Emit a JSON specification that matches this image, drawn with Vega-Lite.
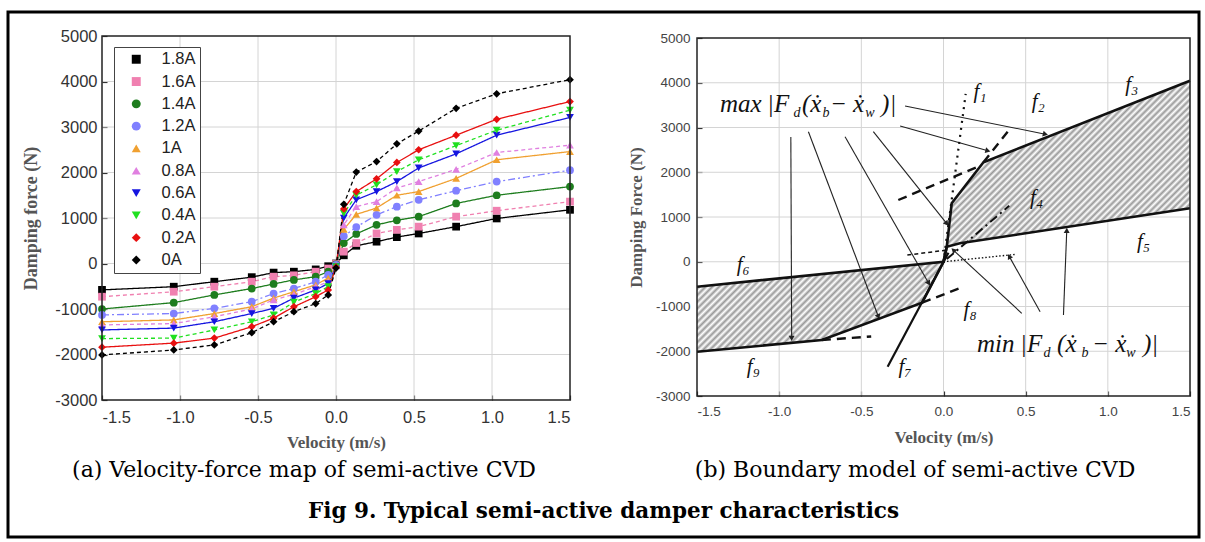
{
"$schema": "https://vega.github.io/schema/vega-lite/v6.json",
"width": 1191,
"height": 525,
"autosize": {"type": "none"},
"padding": {"left": 8, "top": 12, "right": 6, "bottom": 5},
"background": "white",
"config": {
  "view": {"stroke": "#000", "strokeWidth": 3},
  "locale": {"number": {"decimal": ".", "thousands": ",", "grouping": [3], "currency": ["$", ""], "minus": "-"}},
  "axis": {"domain": false, "grid": false, "tickColor": "#333", "tickWidth": 1.2, "tickSize": -5, "labelFont": "Liberation Sans", "titleFont": "Liberation Serif", "titleFontWeight": "bold", "titleColor": "#555"}
},
"title": {"text": "Fig 9. Typical semi-active damper characteristics", "orient": "bottom", "frame": "group", "anchor": "middle", "baseline": "middle", "offset": -25, "font": "DejaVu Serif", "fontSize": 21.5, "fontWeight": "bold", "color": "#000"},
"datasets": {
"gx": [{"g":-1},{"g":-0.5},{"g":0},{"g":0.5},{"g":1}],
"gy": [{"g":-2000},{"g":-1000},{"g":0},{"g":1000},{"g":2000},{"g":3000},{"g":4000}],
"vf": [
{"c":"1.8A","v":-1.5,"F":-580},{"c":"1.8A","v":-1.04,"F":-510},{"c":"1.8A","v":-0.78,"F":-400},{"c":"1.8A","v":-0.54,"F":-300},{"c":"1.8A","v":-0.4,"F":-200},{"c":"1.8A","v":-0.27,"F":-180},{"c":"1.8A","v":-0.13,"F":-130},{"c":"1.8A","v":-0.05,"F":-60},{"c":"1.8A","v":0,"F":0},{"c":"1.8A","v":0.05,"F":180},{"c":"1.8A","v":0.13,"F":390},{"c":"1.8A","v":0.26,"F":480},{"c":"1.8A","v":0.39,"F":580},{"c":"1.8A","v":0.53,"F":660},{"c":"1.8A","v":0.77,"F":810},{"c":"1.8A","v":1.03,"F":990},{"c":"1.8A","v":1.5,"F":1180},
{"c":"1.6A","v":-1.5,"F":-730},{"c":"1.6A","v":-1.04,"F":-620},{"c":"1.6A","v":-0.78,"F":-510},{"c":"1.6A","v":-0.54,"F":-400},{"c":"1.6A","v":-0.4,"F":-290},{"c":"1.6A","v":-0.27,"F":-260},{"c":"1.6A","v":-0.13,"F":-180},{"c":"1.6A","v":-0.05,"F":-110},{"c":"1.6A","v":0,"F":-10},{"c":"1.6A","v":0.05,"F":260},{"c":"1.6A","v":0.13,"F":450},{"c":"1.6A","v":0.26,"F":660},{"c":"1.6A","v":0.39,"F":740},{"c":"1.6A","v":0.53,"F":810},{"c":"1.6A","v":0.77,"F":1030},{"c":"1.6A","v":1.03,"F":1160},{"c":"1.6A","v":1.5,"F":1360},
{"c":"1.4A","v":-1.5,"F":-1000},{"c":"1.4A","v":-1.04,"F":-860},{"c":"1.4A","v":-0.78,"F":-690},{"c":"1.4A","v":-0.54,"F":-550},{"c":"1.4A","v":-0.4,"F":-450},{"c":"1.4A","v":-0.27,"F":-360},{"c":"1.4A","v":-0.13,"F":-290},{"c":"1.4A","v":-0.05,"F":-180},{"c":"1.4A","v":0,"F":-20},{"c":"1.4A","v":0.05,"F":450},{"c":"1.4A","v":0.13,"F":650},{"c":"1.4A","v":0.26,"F":850},{"c":"1.4A","v":0.39,"F":950},{"c":"1.4A","v":0.53,"F":1030},{"c":"1.4A","v":0.77,"F":1320},{"c":"1.4A","v":1.03,"F":1500},{"c":"1.4A","v":1.5,"F":1690},
{"c":"1.2A","v":-1.5,"F":-1130},{"c":"1.2A","v":-1.04,"F":-1100},{"c":"1.2A","v":-0.78,"F":-985},{"c":"1.2A","v":-0.54,"F":-840},{"c":"1.2A","v":-0.4,"F":-660},{"c":"1.2A","v":-0.27,"F":-550},{"c":"1.2A","v":-0.13,"F":-400},{"c":"1.2A","v":-0.05,"F":-250},{"c":"1.2A","v":0,"F":-30},{"c":"1.2A","v":0.05,"F":600},{"c":"1.2A","v":0.13,"F":800},{"c":"1.2A","v":0.26,"F":1070},{"c":"1.2A","v":0.39,"F":1250},{"c":"1.2A","v":0.53,"F":1400},{"c":"1.2A","v":0.77,"F":1600},{"c":"1.2A","v":1.03,"F":1800},{"c":"1.2A","v":1.5,"F":2050},
{"c":"1A","v":-1.5,"F":-1280},{"c":"1A","v":-1.04,"F":-1240},{"c":"1A","v":-0.78,"F":-1100},{"c":"1A","v":-0.54,"F":-950},{"c":"1A","v":-0.4,"F":-760},{"c":"1A","v":-0.27,"F":-620},{"c":"1A","v":-0.13,"F":-470},{"c":"1A","v":-0.05,"F":-320},{"c":"1A","v":0,"F":-40},{"c":"1A","v":0.05,"F":750},{"c":"1A","v":0.13,"F":1080},{"c":"1A","v":0.26,"F":1220},{"c":"1A","v":0.39,"F":1500},{"c":"1A","v":0.53,"F":1580},{"c":"1A","v":0.77,"F":1870},{"c":"1A","v":1.03,"F":2280},{"c":"1A","v":1.5,"F":2460},
{"c":"0.8A","v":-1.5,"F":-1350},{"c":"0.8A","v":-1.04,"F":-1320},{"c":"0.8A","v":-0.78,"F":-1170},{"c":"0.8A","v":-0.54,"F":-1000},{"c":"0.8A","v":-0.4,"F":-800},{"c":"0.8A","v":-0.27,"F":-680},{"c":"0.8A","v":-0.13,"F":-510},{"c":"0.8A","v":-0.05,"F":-400},{"c":"0.8A","v":0,"F":-50},{"c":"0.8A","v":0.05,"F":850},{"c":"0.8A","v":0.13,"F":1250},{"c":"0.8A","v":0.26,"F":1360},{"c":"0.8A","v":0.39,"F":1660},{"c":"0.8A","v":0.53,"F":1800},{"c":"0.8A","v":0.77,"F":2070},{"c":"0.8A","v":1.03,"F":2440},{"c":"0.8A","v":1.5,"F":2600},
{"c":"0.6A","v":-1.5,"F":-1460},{"c":"0.6A","v":-1.04,"F":-1420},{"c":"0.6A","v":-0.78,"F":-1280},{"c":"0.6A","v":-0.54,"F":-1100},{"c":"0.6A","v":-0.4,"F":-985},{"c":"0.6A","v":-0.27,"F":-760},{"c":"0.6A","v":-0.13,"F":-580},{"c":"0.6A","v":-0.05,"F":-440},{"c":"0.6A","v":0,"F":-60},{"c":"0.6A","v":0.05,"F":1000},{"c":"0.6A","v":0.13,"F":1400},{"c":"0.6A","v":0.26,"F":1580},{"c":"0.6A","v":0.39,"F":1800},{"c":"0.6A","v":0.53,"F":2100},{"c":"0.6A","v":0.77,"F":2410},{"c":"0.6A","v":1.03,"F":2820},{"c":"0.6A","v":1.5,"F":3210},
{"c":"0.4A","v":-1.5,"F":-1650},{"c":"0.4A","v":-1.04,"F":-1640},{"c":"0.4A","v":-0.78,"F":-1460},{"c":"0.4A","v":-0.54,"F":-1280},{"c":"0.4A","v":-0.4,"F":-1130},{"c":"0.4A","v":-0.27,"F":-850},{"c":"0.4A","v":-0.13,"F":-660},{"c":"0.4A","v":-0.05,"F":-510},{"c":"0.4A","v":0,"F":-70},{"c":"0.4A","v":0.05,"F":1100},{"c":"0.4A","v":0.13,"F":1500},{"c":"0.4A","v":0.26,"F":1730},{"c":"0.4A","v":0.39,"F":2020},{"c":"0.4A","v":0.53,"F":2280},{"c":"0.4A","v":0.77,"F":2590},{"c":"0.4A","v":1.03,"F":2930},{"c":"0.4A","v":1.5,"F":3370},
{"c":"0.2A","v":-1.5,"F":-1840},{"c":"0.2A","v":-1.04,"F":-1750},{"c":"0.2A","v":-0.78,"F":-1640},{"c":"0.2A","v":-0.54,"F":-1390},{"c":"0.2A","v":-0.4,"F":-1200},{"c":"0.2A","v":-0.27,"F":-950},{"c":"0.2A","v":-0.13,"F":-730},{"c":"0.2A","v":-0.05,"F":-580},{"c":"0.2A","v":0,"F":-80},{"c":"0.2A","v":0.05,"F":1200},{"c":"0.2A","v":0.13,"F":1580},{"c":"0.2A","v":0.26,"F":1860},{"c":"0.2A","v":0.39,"F":2220},{"c":"0.2A","v":0.53,"F":2500},{"c":"0.2A","v":0.77,"F":2820},{"c":"0.2A","v":1.03,"F":3170},{"c":"0.2A","v":1.5,"F":3560},
{"c":"0A","v":-1.5,"F":-2010},{"c":"0A","v":-1.04,"F":-1900},{"c":"0A","v":-0.78,"F":-1790},{"c":"0A","v":-0.54,"F":-1520},{"c":"0A","v":-0.4,"F":-1280},{"c":"0A","v":-0.27,"F":-1060},{"c":"0A","v":-0.13,"F":-880},{"c":"0A","v":-0.05,"F":-690},{"c":"0A","v":0,"F":-100},{"c":"0A","v":0.05,"F":1300},{"c":"0A","v":0.13,"F":2010},{"c":"0A","v":0.26,"F":2240},{"c":"0A","v":0.39,"F":2630},{"c":"0A","v":0.53,"F":2910},{"c":"0A","v":0.77,"F":3410},{"c":"0A","v":1.03,"F":3730},{"c":"0A","v":1.5,"F":4040}
],
"hatchL": [{"v":-1.5,"top":-557,"bot":-2010},{"v":-0.74,"top":-275,"bot":-1749},{"v":-0.13,"top":-48,"bot":-915},{"v":0,"top":0,"bot":0}],
"hatchR": [{"v":0.02,"top":336,"bot":336},{"v":0.05,"top":1306,"bot":364},{"v":0.1,"top":1543,"bot":412},{"v":0.243,"top":2222,"bot":492},{"v":1.5,"top":4046,"bot":1194}],
"rl": [
{"seg":"max","sty":"bold","o":1,"v":-1.5,"F":-2010},{"seg":"max","sty":"bold","o":2,"v":-0.74,"F":-1749},{"seg":"max","sty":"bold","o":3,"v":-0.13,"F":-915},{"seg":"max","sty":"bold","o":4,"v":0,"F":0},{"seg":"max","sty":"bold","o":5,"v":0.02,"F":336},{"seg":"max","sty":"bold","o":6,"v":0.05,"F":1306},{"seg":"max","sty":"bold","o":7,"v":0.243,"F":2222},{"seg":"max","sty":"bold","o":8,"v":1.5,"F":4046},
{"seg":"min","sty":"bold","o":1,"v":-1.5,"F":-557},{"seg":"min","sty":"bold","o":2,"v":0,"F":0},{"seg":"min","sty":"bold","o":3,"v":0.02,"F":336},{"seg":"min","sty":"bold","o":4,"v":0.1,"F":412},{"seg":"min","sty":"bold","o":5,"v":1.5,"F":1194},
{"seg":"f7","sty":"solid","o":1,"v":-0.34,"F":-2345},{"seg":"f7","sty":"solid","o":2,"v":0.03,"F":200},
{"seg":"f3x","sty":"dash","o":1,"v":-0.275,"F":1380},{"seg":"f3x","sty":"dash","o":2,"v":0.2,"F":2110},
{"seg":"f2x","sty":"dash","o":1,"v":0.243,"F":2222},{"seg":"f2x","sty":"dash","o":2,"v":0.4,"F":2950},
{"seg":"f9x1","sty":"dash","o":1,"v":-0.74,"F":-1749},{"seg":"f9x1","sty":"dash","o":2,"v":-0.44,"F":-1670},
{"seg":"f9x2","sty":"dash","o":1,"v":-0.13,"F":-915},{"seg":"f9x2","sty":"dash","o":2,"v":0.1,"F":-590},
{"seg":"f4","sty":"dashdot","o":1,"v":0.02,"F":60},{"seg":"f4","sty":"dashdot","o":2,"v":0.4,"F":1250},
{"seg":"f5x","sty":"dashs","o":1,"v":-0.22,"F":150},{"seg":"f5x","sty":"dashs","o":2,"v":0.02,"F":260},
{"seg":"f1","sty":"dot","o":1,"v":0,"F":0},{"seg":"f1","sty":"dot","o":2,"v":0.135,"F":3750},
{"seg":"f6x","sty":"dotf","o":1,"v":0,"F":0},{"seg":"f6x","sty":"dotf","o":2,"v":0.44,"F":165},
{"seg":"a1","sty":"arr","o":1,"v":-0.929,"F":2788},{"seg":"a1","sty":"arr","o":2,"v":-0.924,"F":-1711},
{"seg":"a2","sty":"arr","o":1,"v":-0.822,"F":2906},{"seg":"a2","sty":"arr","o":2,"v":-0.396,"F":-1228},
{"seg":"a3","sty":"arr","o":1,"v":-0.599,"F":2794},{"seg":"a3","sty":"arr","o":2,"v":-0.09,"F":-482},
{"seg":"a4","sty":"arr","o":1,"v":-0.427,"F":2906},{"seg":"a4","sty":"arr","o":2,"v":0.02,"F":850},
{"seg":"a5","sty":"arr","o":1,"v":-0.234,"F":3480},{"seg":"a5","sty":"arr","o":2,"v":0.62,"F":2850},
{"seg":"a6","sty":"arr","o":1,"v":-0.264,"F":3034},{"seg":"a6","sty":"arr","o":2,"v":0.27,"F":2480},
{"seg":"b1","sty":"arr","o":1,"v":0.73,"F":-1190},{"seg":"b1","sty":"arr","o":2,"v":0.75,"F":700},
{"seg":"b2","sty":"arr","o":1,"v":0.588,"F":-1116},{"seg":"b2","sty":"arr","o":2,"v":0.4,"F":120},
{"seg":"b3","sty":"arr","o":1,"v":0.476,"F":-1152},{"seg":"b3","sty":"arr","o":2,"v":0.06,"F":260}
],
"fl": [{"t":"f₁","v":0.222,"F":3800},{"t":"f₂","v":0.577,"F":3577},{"t":"f₃","v":1.146,"F":3950},{"t":"f₄","v":0.567,"F":1418},{"t":"f₅","v":1.217,"F":448},{"t":"f₆","v":-1.218,"F":-73},{"t":"f₇","v":-0.234,"F":-2345},{"t":"f₈","v":0.162,"F":-1078},{"t":"f₉","v":-1.157,"F":-2345}],
"big": [{"t":"max","v":-1.36,"F":3346},{"t":"|F","v":-1.074,"F":3346},{"t":"(ẋ","v":-0.861,"F":3346},{"t":"− ẋ","v":-0.691,"F":3346},{"t":")|","v":-0.38,"F":3346},
{"t":"min","v":0.204,"F":-2017},{"t":"|F","v":0.466,"F":-2017},{"t":"(ẋ","v":0.691,"F":-2017},{"t":"− ẋ","v":0.904,"F":-2017},{"t":")|","v":1.214,"F":-2017}],
"sub": [{"t":"d","v":-0.891,"F":3235},{"t":"b","v":-0.715,"F":3235},{"t":"w","v":-0.447,"F":3235},{"t":"d","v":0.63,"F":-2128},{"t":"b","v":0.861,"F":-2128},{"t":"w","v":1.141,"F":-2128}]
},
"layer": [
{
"layer": [
  {
  "data": {"name": "gx"},
  "mark": {"type": "rule", "stroke": "#d4d4d4", "strokeWidth": 1},
  "encoding": {"x": {"field": "g", "type": "quantitative"}, "y": {"datum": -3000, "type": "quantitative"}, "y2": {"datum": 5000}}
  },
  {
  "data": {"name": "gy"},
  "mark": {"type": "rule", "stroke": "#d4d4d4", "strokeWidth": 1},
  "encoding": {"y": {"field": "g", "type": "quantitative"}, "x": {"datum": -1.5, "type": "quantitative"}, "x2": {"datum": 1.5}}
  },
  {
  "data": {"name": "vf"},
  "mark": {"type": "line", "strokeWidth": 1.3},
  "encoding": {
    "x": {"field": "v", "type": "quantitative", "scale": {"domain": [-1.5, 1.5], "range": [94, 562], "nice": false, "zero": false},
      "axis": {"orient": "bottom", "offset": -137, "values": [-1.5, -1, -0.5, 0, 0.5, 1, 1.5], "format": ".1f", "title": "Velocity (m/s)", "labelFontSize": 16.5, "labelColor": "#333", "labelPadding": 14, "titleFontSize": 17, "titlePadding": 9}},
    "y": {"field": "F", "type": "quantitative", "scale": {"domain": [-3000, 5000], "range": [388, 24], "nice": false, "zero": false},
      "axis": {"orient": "left", "offset": -94, "values": [-3000, -2000, -1000, 0, 1000, 2000, 3000, 4000, 5000], "format": "d", "title": "Damping force (N)", "labelFontSize": 16.5, "labelColor": "#333", "labelPadding": 10, "titleFontSize": 18, "titlePadding": 14}},
    "stroke": {"field": "c", "type": "nominal", "scale": {"domain": ["0A","0.2A","0.4A","0.6A","0.8A","1A","1.2A","1.4A","1.6A","1.8A"], "range": ["#000000","#e81010","#20e020","#1515e0","#e080e0","#f0a030","#8080ff","#1e7d1e","#f080b0","#000000"]}, "legend": null},
    "strokeDash": {"field": "c", "type": "nominal", "scale": {"domain": ["0A","0.2A","0.4A","0.6A","0.8A","1A","1.2A","1.4A","1.6A","1.8A"], "range": [[4,3],[1,0],[4,3],[1,0],[4,3],[1,0],[7,3,2,3],[1,0],[4,3],[1,0]]}, "legend": null}
  }
  },
  {
  "data": {"name": "vf"},
  "mark": {"type": "point", "filled": true, "opacity": 1, "size": 60},
  "encoding": {
    "x": {"field": "v", "type": "quantitative"},
    "y": {"field": "F", "type": "quantitative"},
    "color": {"field": "c", "type": "nominal", "scale": {"domain": ["1.8A","1.6A","1.4A","1.2A","1A","0.8A","0.6A","0.4A","0.2A","0A"], "range": ["#000000","#f080b0","#1e7d1e","#8080ff","#f0a030","#e080e0","#1515e0","#20e020","#e81010","#000000"]},
      "legend": {"orient": "none", "legendX": 106, "legendY": 35, "title": null, "symbolSize": 80, "symbolStrokeWidth": 0, "symbolOpacity": 1, "symbolOffset": 10, "labelFont": "Liberation Sans", "labelFontSize": 16.5, "labelColor": "#222", "labelOffset": 17, "rowPadding": 5.3, "padding": 4, "strokeColor": "#444", "fillColor": "white"}},
    "shape": {"field": "c", "type": "nominal", "scale": {"domain": ["1.8A","1.6A","1.4A","1.2A","1A","0.8A","0.6A","0.4A","0.2A","0A"], "range": ["square","square","circle","circle","triangle-up","triangle-up","triangle-down","triangle-down","diamond","diamond"]}}
  }
  },
  {
  "data": {"values": [{}]},
  "mark": {"type": "text", "font": "DejaVu Serif", "fontSize": 22, "color": "#000", "align": "center", "baseline": "middle"},
  "encoding": {"x": {"datum": -0.205, "type": "quantitative"}, "y": {"datum": -4538, "type": "quantitative"}, "text": {"value": "(a) Velocity-force map of semi-active CVD"}}
  },
  {
  "data": {"values": [{}]},
  "mark": {"type": "rect", "filled": false, "stroke": "#222", "strokeWidth": 1.5},
  "encoding": {"x": {"datum": -1.5, "type": "quantitative"}, "x2": {"datum": 1.5}, "y": {"datum": -3000, "type": "quantitative"}, "y2": {"datum": 5000}}
  }
]
},
{
"layer": [
  {
  "data": {"name": "gx"},
  "mark": {"type": "rule", "stroke": "#d4d4d4", "strokeWidth": 1},
  "encoding": {"x": {"field": "g", "type": "quantitative"}, "y": {"datum": -3000, "type": "quantitative"}, "y2": {"datum": 5000}}
  },
  {
  "data": {"name": "gy"},
  "mark": {"type": "rule", "stroke": "#d4d4d4", "strokeWidth": 1},
  "encoding": {"y": {"field": "g", "type": "quantitative"}, "x": {"datum": -1.5, "type": "quantitative"}, "x2": {"datum": 1.5}}
  },
  {
  "data": {"name": "hatchL"},
  "mark": {"type": "area", "color": {"gradient": "linear", "x1": 0, "y1": 0, "x2": 1.2045, "y2": 0.4397, "stops": [
{"offset":0,"color":"#999"},{"offset":0.01,"color":"#fff"},{"offset":0.02,"color":"#999"},{"offset":0.03,"color":"#fff"},{"offset":0.04,"color":"#999"},{"offset":0.05,"color":"#fff"},{"offset":0.06,"color":"#999"},{"offset":0.07,"color":"#fff"},{"offset":0.08,"color":"#999"},{"offset":0.09,"color":"#fff"},
{"offset":0.1,"color":"#999"},{"offset":0.11,"color":"#fff"},{"offset":0.12,"color":"#999"},{"offset":0.13,"color":"#fff"},{"offset":0.14,"color":"#999"},{"offset":0.15,"color":"#fff"},{"offset":0.16,"color":"#999"},{"offset":0.17,"color":"#fff"},{"offset":0.18,"color":"#999"},{"offset":0.19,"color":"#fff"},
{"offset":0.2,"color":"#999"},{"offset":0.21,"color":"#fff"},{"offset":0.22,"color":"#999"},{"offset":0.23,"color":"#fff"},{"offset":0.24,"color":"#999"},{"offset":0.25,"color":"#fff"},{"offset":0.26,"color":"#999"},{"offset":0.27,"color":"#fff"},{"offset":0.28,"color":"#999"},{"offset":0.29,"color":"#fff"},
{"offset":0.3,"color":"#999"},{"offset":0.31,"color":"#fff"},{"offset":0.32,"color":"#999"},{"offset":0.33,"color":"#fff"},{"offset":0.34,"color":"#999"},{"offset":0.35,"color":"#fff"},{"offset":0.36,"color":"#999"},{"offset":0.37,"color":"#fff"},{"offset":0.38,"color":"#999"},{"offset":0.39,"color":"#fff"},
{"offset":0.4,"color":"#999"},{"offset":0.41,"color":"#fff"},{"offset":0.42,"color":"#999"},{"offset":0.43,"color":"#fff"},{"offset":0.44,"color":"#999"},{"offset":0.45,"color":"#fff"},{"offset":0.46,"color":"#999"},{"offset":0.47,"color":"#fff"},{"offset":0.48,"color":"#999"},{"offset":0.49,"color":"#fff"},
{"offset":0.5,"color":"#999"},{"offset":0.51,"color":"#fff"},{"offset":0.52,"color":"#999"},{"offset":0.53,"color":"#fff"},{"offset":0.54,"color":"#999"},{"offset":0.55,"color":"#fff"},{"offset":0.56,"color":"#999"},{"offset":0.57,"color":"#fff"},{"offset":0.58,"color":"#999"},{"offset":0.59,"color":"#fff"},
{"offset":0.6,"color":"#999"},{"offset":0.61,"color":"#fff"},{"offset":0.62,"color":"#999"},{"offset":0.63,"color":"#fff"},{"offset":0.64,"color":"#999"},{"offset":0.65,"color":"#fff"},{"offset":0.66,"color":"#999"},{"offset":0.67,"color":"#fff"},{"offset":0.68,"color":"#999"},{"offset":0.69,"color":"#fff"},
{"offset":0.7,"color":"#999"},{"offset":0.71,"color":"#fff"},{"offset":0.72,"color":"#999"},{"offset":0.73,"color":"#fff"},{"offset":0.74,"color":"#999"},{"offset":0.75,"color":"#fff"},{"offset":0.76,"color":"#999"},{"offset":0.77,"color":"#fff"},{"offset":0.78,"color":"#999"},{"offset":0.79,"color":"#fff"},
{"offset":0.8,"color":"#999"},{"offset":0.81,"color":"#fff"},{"offset":0.82,"color":"#999"},{"offset":0.83,"color":"#fff"},{"offset":0.84,"color":"#999"},{"offset":0.85,"color":"#fff"},{"offset":0.86,"color":"#999"},{"offset":0.87,"color":"#fff"},{"offset":0.88,"color":"#999"},{"offset":0.89,"color":"#fff"},
{"offset":0.9,"color":"#999"},{"offset":0.91,"color":"#fff"},{"offset":0.92,"color":"#999"},{"offset":0.93,"color":"#fff"},{"offset":0.94,"color":"#999"},{"offset":0.95,"color":"#fff"},{"offset":0.96,"color":"#999"},{"offset":0.97,"color":"#fff"},{"offset":0.98,"color":"#999"},{"offset":0.99,"color":"#fff"},{"offset":1,"color":"#999"}
]}},
  "encoding": {
    "x": {"field": "v", "type": "quantitative", "scale": {"domain": [-1.5, 1.5], "range": [689, 1182], "nice": false, "zero": false},
      "axis": {"orient": "bottom", "offset": -141, "values": [-1.5, -1, -0.5, 0, 0.5, 1, 1.5], "format": ".1f", "title": "Velocity (m/s)", "labelFontSize": 13.5, "labelColor": "#444", "labelPadding": 13, "titleFontSize": 17, "titlePadding": 12}},
    "y": {"field": "top", "type": "quantitative", "scale": {"domain": [-3000, 5000], "range": [384, 26], "nice": false, "zero": false},
      "axis": {"orient": "left", "offset": -689, "values": [-3000, -2000, -1000, 0, 1000, 2000, 3000, 4000, 5000], "format": "d", "title": "Damping Force (N)", "labelFontSize": 13.5, "labelColor": "#444", "labelPadding": 12, "titleFontSize": 17, "titlePadding": 10}},
    "y2": {"field": "bot"}
  }
  },
  {
  "data": {"name": "hatchR"},
  "mark": {"type": "area", "color": {"gradient": "linear", "x1": 0, "y1": 0, "x2": 1.1478, "y2": 0.7835, "stops": [
{"offset":0,"color":"#999"},{"offset":0.008,"color":"#fff"},{"offset":0.016,"color":"#999"},{"offset":0.024,"color":"#fff"},{"offset":0.032,"color":"#999"},{"offset":0.04,"color":"#fff"},{"offset":0.048,"color":"#999"},{"offset":0.056,"color":"#fff"},{"offset":0.064,"color":"#999"},{"offset":0.072,"color":"#fff"},
{"offset":0.08,"color":"#999"},{"offset":0.088,"color":"#fff"},{"offset":0.096,"color":"#999"},{"offset":0.104,"color":"#fff"},{"offset":0.112,"color":"#999"},{"offset":0.12,"color":"#fff"},{"offset":0.128,"color":"#999"},{"offset":0.136,"color":"#fff"},{"offset":0.144,"color":"#999"},{"offset":0.152,"color":"#fff"},
{"offset":0.16,"color":"#999"},{"offset":0.168,"color":"#fff"},{"offset":0.176,"color":"#999"},{"offset":0.184,"color":"#fff"},{"offset":0.192,"color":"#999"},{"offset":0.2,"color":"#fff"},{"offset":0.208,"color":"#999"},{"offset":0.216,"color":"#fff"},{"offset":0.224,"color":"#999"},{"offset":0.232,"color":"#fff"},
{"offset":0.24,"color":"#999"},{"offset":0.248,"color":"#fff"},{"offset":0.256,"color":"#999"},{"offset":0.264,"color":"#fff"},{"offset":0.272,"color":"#999"},{"offset":0.28,"color":"#fff"},{"offset":0.288,"color":"#999"},{"offset":0.296,"color":"#fff"},{"offset":0.304,"color":"#999"},{"offset":0.312,"color":"#fff"},
{"offset":0.32,"color":"#999"},{"offset":0.328,"color":"#fff"},{"offset":0.336,"color":"#999"},{"offset":0.344,"color":"#fff"},{"offset":0.352,"color":"#999"},{"offset":0.36,"color":"#fff"},{"offset":0.368,"color":"#999"},{"offset":0.376,"color":"#fff"},{"offset":0.384,"color":"#999"},{"offset":0.392,"color":"#fff"},
{"offset":0.4,"color":"#999"},{"offset":0.408,"color":"#fff"},{"offset":0.416,"color":"#999"},{"offset":0.424,"color":"#fff"},{"offset":0.432,"color":"#999"},{"offset":0.44,"color":"#fff"},{"offset":0.448,"color":"#999"},{"offset":0.456,"color":"#fff"},{"offset":0.464,"color":"#999"},{"offset":0.472,"color":"#fff"},
{"offset":0.48,"color":"#999"},{"offset":0.488,"color":"#fff"},{"offset":0.496,"color":"#999"},{"offset":0.504,"color":"#fff"},{"offset":0.512,"color":"#999"},{"offset":0.52,"color":"#fff"},{"offset":0.528,"color":"#999"},{"offset":0.536,"color":"#fff"},{"offset":0.544,"color":"#999"},{"offset":0.552,"color":"#fff"},
{"offset":0.56,"color":"#999"},{"offset":0.568,"color":"#fff"},{"offset":0.576,"color":"#999"},{"offset":0.584,"color":"#fff"},{"offset":0.592,"color":"#999"},{"offset":0.6,"color":"#fff"},{"offset":0.608,"color":"#999"},{"offset":0.616,"color":"#fff"},{"offset":0.624,"color":"#999"},{"offset":0.632,"color":"#fff"},
{"offset":0.64,"color":"#999"},{"offset":0.648,"color":"#fff"},{"offset":0.656,"color":"#999"},{"offset":0.664,"color":"#fff"},{"offset":0.672,"color":"#999"},{"offset":0.68,"color":"#fff"},{"offset":0.688,"color":"#999"},{"offset":0.696,"color":"#fff"},{"offset":0.704,"color":"#999"},{"offset":0.712,"color":"#fff"},
{"offset":0.72,"color":"#999"},{"offset":0.728,"color":"#fff"},{"offset":0.736,"color":"#999"},{"offset":0.744,"color":"#fff"},{"offset":0.752,"color":"#999"},{"offset":0.76,"color":"#fff"},{"offset":0.768,"color":"#999"},{"offset":0.776,"color":"#fff"},{"offset":0.784,"color":"#999"},{"offset":0.792,"color":"#fff"},
{"offset":0.8,"color":"#999"},{"offset":0.808,"color":"#fff"},{"offset":0.816,"color":"#999"},{"offset":0.824,"color":"#fff"},{"offset":0.832,"color":"#999"},{"offset":0.84,"color":"#fff"},{"offset":0.848,"color":"#999"},{"offset":0.856,"color":"#fff"},{"offset":0.864,"color":"#999"},{"offset":0.872,"color":"#fff"},
{"offset":0.88,"color":"#999"},{"offset":0.888,"color":"#fff"},{"offset":0.896,"color":"#999"},{"offset":0.904,"color":"#fff"},{"offset":0.912,"color":"#999"},{"offset":0.92,"color":"#fff"},{"offset":0.928,"color":"#999"},{"offset":0.936,"color":"#fff"},{"offset":0.944,"color":"#999"},{"offset":0.952,"color":"#fff"},
{"offset":0.96,"color":"#999"},{"offset":0.968,"color":"#fff"},{"offset":0.976,"color":"#999"},{"offset":0.984,"color":"#fff"},{"offset":0.992,"color":"#999"},{"offset":1,"color":"#fff"}
]}},
  "encoding": {"x": {"field": "v", "type": "quantitative"}, "y": {"field": "top", "type": "quantitative"}, "y2": {"field": "bot"}}
  },
  {
  "data": {"name": "rl"}, "transform": [{"filter": "datum.sty === 'arr'"}],
  "mark": {"type": "line", "stroke": "#222", "strokeWidth": 1.1},
  "encoding": {"x": {"field": "v", "type": "quantitative"}, "y": {"field": "F", "type": "quantitative"}, "detail": {"field": "seg"}, "order": {"field": "o"}}
  },
  {"data": {"name": "rl"}, "transform": [{"filter": "datum.seg === 'a1' && datum.o === 2"}], "mark": {"type": "point", "shape": "triangle-up", "filled": true, "color": "#222", "opacity": 1, "size": 35, "angle": 180}, "encoding": {"x": {"field": "v", "type": "quantitative"}, "y": {"field": "F", "type": "quantitative"}}},
  {"data": {"name": "rl"}, "transform": [{"filter": "datum.seg === 'a2' && datum.o === 2"}], "mark": {"type": "point", "shape": "triangle-up", "filled": true, "color": "#222", "opacity": 1, "size": 35, "angle": 159}, "encoding": {"x": {"field": "v", "type": "quantitative"}, "y": {"field": "F", "type": "quantitative"}}},
  {"data": {"name": "rl"}, "transform": [{"filter": "datum.seg === 'a3' && datum.o === 2"}], "mark": {"type": "point", "shape": "triangle-up", "filled": true, "color": "#222", "opacity": 1, "size": 35, "angle": 150}, "encoding": {"x": {"field": "v", "type": "quantitative"}, "y": {"field": "F", "type": "quantitative"}}},
  {"data": {"name": "rl"}, "transform": [{"filter": "datum.seg === 'a4' && datum.o === 2"}], "mark": {"type": "point", "shape": "triangle-up", "filled": true, "color": "#222", "opacity": 1, "size": 35, "angle": 141}, "encoding": {"x": {"field": "v", "type": "quantitative"}, "y": {"field": "F", "type": "quantitative"}}},
  {"data": {"name": "rl"}, "transform": [{"filter": "(datum.seg === 'a5' || datum.seg === 'a6') && datum.o === 2"}], "mark": {"type": "point", "shape": "triangle-up", "filled": true, "color": "#222", "opacity": 1, "size": 35, "angle": 104}, "encoding": {"x": {"field": "v", "type": "quantitative"}, "y": {"field": "F", "type": "quantitative"}}},
  {"data": {"name": "rl"}, "transform": [{"filter": "datum.seg === 'b1' && datum.o === 2"}], "mark": {"type": "point", "shape": "triangle-up", "filled": true, "color": "#222", "opacity": 1, "size": 35, "angle": 2}, "encoding": {"x": {"field": "v", "type": "quantitative"}, "y": {"field": "F", "type": "quantitative"}}},
  {"data": {"name": "rl"}, "transform": [{"filter": "datum.seg === 'b2' && datum.o === 2"}], "mark": {"type": "point", "shape": "triangle-up", "filled": true, "color": "#222", "opacity": 1, "size": 35, "angle": 331}, "encoding": {"x": {"field": "v", "type": "quantitative"}, "y": {"field": "F", "type": "quantitative"}}},
  {"data": {"name": "rl"}, "transform": [{"filter": "datum.seg === 'b3' && datum.o === 2"}], "mark": {"type": "point", "shape": "triangle-up", "filled": true, "color": "#222", "opacity": 1, "size": 35, "angle": 313}, "encoding": {"x": {"field": "v", "type": "quantitative"}, "y": {"field": "F", "type": "quantitative"}}},
  {
  "data": {"name": "rl"}, "transform": [{"filter": "datum.sty === 'dash'"}],
  "mark": {"type": "line", "stroke": "#111", "strokeWidth": 2.4, "strokeDash": [9, 6]},
  "encoding": {"x": {"field": "v", "type": "quantitative"}, "y": {"field": "F", "type": "quantitative"}, "detail": {"field": "seg"}, "order": {"field": "o"}}
  },
  {
  "data": {"name": "rl"}, "transform": [{"filter": "datum.sty === 'dashdot'"}],
  "mark": {"type": "line", "stroke": "#111", "strokeWidth": 2, "strokeDash": [9, 4, 2, 4]},
  "encoding": {"x": {"field": "v", "type": "quantitative"}, "y": {"field": "F", "type": "quantitative"}, "detail": {"field": "seg"}, "order": {"field": "o"}}
  },
  {
  "data": {"name": "rl"}, "transform": [{"filter": "datum.sty === 'dashs'"}],
  "mark": {"type": "line", "stroke": "#111", "strokeWidth": 1.6, "strokeDash": [4, 3]},
  "encoding": {"x": {"field": "v", "type": "quantitative"}, "y": {"field": "F", "type": "quantitative"}, "detail": {"field": "seg"}, "order": {"field": "o"}}
  },
  {
  "data": {"name": "rl"}, "transform": [{"filter": "datum.sty === 'dot'"}],
  "mark": {"type": "line", "stroke": "#111", "strokeWidth": 2.2, "strokeDash": [2, 5]},
  "encoding": {"x": {"field": "v", "type": "quantitative"}, "y": {"field": "F", "type": "quantitative"}, "detail": {"field": "seg"}, "order": {"field": "o"}}
  },
  {
  "data": {"name": "rl"}, "transform": [{"filter": "datum.sty === 'dotf'"}],
  "mark": {"type": "line", "stroke": "#111", "strokeWidth": 1.4, "strokeDash": [1.5, 2]},
  "encoding": {"x": {"field": "v", "type": "quantitative"}, "y": {"field": "F", "type": "quantitative"}, "detail": {"field": "seg"}, "order": {"field": "o"}}
  },
  {
  "data": {"name": "rl"}, "transform": [{"filter": "datum.sty === 'solid'"}],
  "mark": {"type": "line", "stroke": "#111", "strokeWidth": 2.2},
  "encoding": {"x": {"field": "v", "type": "quantitative"}, "y": {"field": "F", "type": "quantitative"}, "detail": {"field": "seg"}, "order": {"field": "o"}}
  },
  {
  "data": {"name": "rl"}, "transform": [{"filter": "datum.sty === 'bold'"}],
  "mark": {"type": "line", "stroke": "#111", "strokeWidth": 2.6},
  "encoding": {"x": {"field": "v", "type": "quantitative"}, "y": {"field": "F", "type": "quantitative"}, "detail": {"field": "seg"}, "order": {"field": "o"}}
  },
  {
  "data": {"name": "fl"},
  "mark": {"type": "text", "font": "Liberation Serif", "fontStyle": "italic", "fontSize": 21, "color": "#111", "align": "center", "baseline": "middle"},
  "encoding": {"x": {"field": "v", "type": "quantitative"}, "y": {"field": "F", "type": "quantitative"}, "text": {"field": "t"}}
  },
  {
  "data": {"name": "big"},
  "mark": {"type": "text", "font": "Liberation Serif", "fontStyle": "italic", "fontSize": 25, "color": "#111", "align": "left", "baseline": "alphabetic"},
  "encoding": {"x": {"field": "v", "type": "quantitative"}, "y": {"field": "F", "type": "quantitative"}, "text": {"field": "t"}}
  },
  {
  "data": {"name": "sub"},
  "mark": {"type": "text", "font": "Liberation Serif", "fontStyle": "italic", "fontSize": 14, "color": "#111", "align": "center", "baseline": "alphabetic"},
  "encoding": {"x": {"field": "v", "type": "quantitative"}, "y": {"field": "F", "type": "quantitative"}, "text": {"field": "t"}}
  },
  {
  "data": {"values": [{}]},
  "mark": {"type": "text", "font": "DejaVu Serif", "fontSize": 22, "color": "#000", "align": "center", "baseline": "middle"},
  "encoding": {"x": {"datum": -0.173, "type": "quantitative"}, "y": {"datum": -4654, "type": "quantitative"}, "text": {"value": "(b) Boundary model of semi-active CVD"}}
  },
  {
  "data": {"values": [{}]},
  "mark": {"type": "rect", "filled": false, "stroke": "#222", "strokeWidth": 1.5},
  "encoding": {"x": {"datum": -1.5, "type": "quantitative"}, "x2": {"datum": 1.5}, "y": {"datum": -3000, "type": "quantitative"}, "y2": {"datum": 5000}}
  }
]
}
],
"resolve": {"scale": {"x": "independent", "y": "independent"}, "axis": {"x": "independent", "y": "independent"}}
}
